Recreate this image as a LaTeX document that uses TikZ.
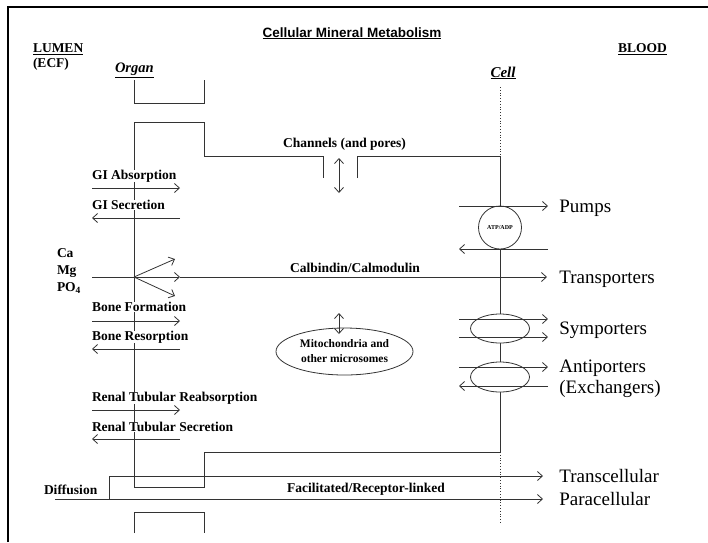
\documentclass[tikz,border=0pt]{standalone}
\usepackage{fontspec}
\setmainfont{Liberation Serif}
\newfontfamily\titlefont{Liberation Sans}
\usetikzlibrary{arrows.meta}
\begin{document}
\begin{tikzpicture}[x=1pt,y=-1pt,line width=.8pt,draw=black!80,
  lbl/.style={font=\fontsize{13.5}{15}\selectfont\bfseries,inner sep=0pt,outer sep=0pt,fill=white,anchor=base west},
  big/.style={font=\fontsize{19}{21}\selectfont,inner sep=0pt,anchor=base west},
  >={Straight Barb[length=5pt,width=9pt]}]
\def\mitochondria{(344.5,351.5) ellipse (68.5pt and 23.5pt)}
\def\pump{(500,227.5) circle (21.5pt)}
\def\symporter{(500,328.5) ellipse (29.5pt and 14.5pt)}
\def\antiporter{(500,377) ellipse (29.5pt and 15pt)}
\useasboundingbox (0,0) rectangle (708,542);
\draw[draw=black,line width=1.4pt] (8,542) -- (8,7) -- (708,7);
% headings
\node[font=\titlefont\fontsize{13.5}{15}\selectfont\bfseries,inner sep=0pt,anchor=base] (title) at (352,37) {\underline{Cellular Mineral Metabolism}};
\node[lbl] (lumen) at (33,52.5) {\underline{LUMEN}};
\node[lbl] (ecf) at (33,67.5) {(ECF)};
\node[lbl,font=\fontsize{14.5}{16}\selectfont\bfseries\itshape] (organ) at (115,72.5) {\underline{Organ}};
\node[lbl] (blood) at (618,52.5) {\underline{BLOOD}};
\node[lbl,anchor=base,font=\fontsize{15}{16}\selectfont\bfseries\itshape] (cell) at (503,77) {\underline{Cell}};
% organ and cell walls
\draw (134,80) -- (134,103) -- (204,103) -- (204,80);
\draw (134,533) -- (134,512) -- (204,512) -- (204,533);
\draw (357,178) -- (357,156) -- (500,156) -- (500,452) -- (204,452) -- (204,487)
  -- (134,487) -- (134,122) -- (204,122) -- (204,156) -- (323,156) -- (323,178);
\draw[dotted] (500,87) -- (500,156) (500,452) -- (500,523);
\draw[fill=white]\pump node[inner sep=0pt,font=\fontsize{6}{6}\selectfont\bfseries] (atp) {ATP/ADP};
\draw[fill=white]\symporter;
\draw[fill=white]\antiporter;
\draw[fill=white]\mitochondria node[align=center,inner sep=0pt,font=\fontsize{11.5}{15}\selectfont\bfseries] (mito) {Mitochondria and\\other microsomes};
% channels
\node[lbl,anchor=base] (channels) at (344.5,147.5) {Channels (and pores)};
\draw[<->] (339,158) -- (339,193);
\draw[<->] (339,313) -- (339,334);
% left side exchanges
\node[lbl] (giabs) at (92,179.5) {GI Absorption};
\draw[->] (92,188) -- (180,188);
\node[lbl] (gisec) at (92,209.5) {GI Secretion};
\draw[->] (180,218) -- (92,218);
\node[lbl] (ca) at (57,257.5) {Ca};
\node[lbl] (mg) at (57,274.5) {Mg};
\node[lbl] (po) at (57,291.5) {PO\textsubscript{4}};
\coordinate (junc) at (134,277);
\draw[->] (junc) -- (175,259);
\draw[->] (junc) -- (175,296);
\draw[->] (92,277) -- (180,277);
\draw[->] (180,277) -- (547,277);
\node[lbl,anchor=base] (calb) at (355,272.5) {Calbindin/Calmodulin};
\node[lbl] (bform) at (92,311.5) {Bone Formation};
\draw[->] (92,321) -- (180,321);
\node[lbl] (bres) at (92,340.5) {Bone Resorption};
\draw[->] (180,349) -- (92,349);
\node[lbl] (rtreab) at (92,401.5) {Renal Tubular Reabsorption};
\draw[->] (92,410) -- (180,410);
\node[lbl] (rtsec) at (92,431.5) {Renal Tubular Secretion};
\draw[->] (180,439) -- (92,439);
% right side carriers
\draw[->] (459,206) -- (548,206);
\draw[->] (548,249) -- (459,249);
\node[big] (pumps) at (559,212) {Pumps};
\node[big] (transp) at (559,283) {Transporters};
\draw[->] (459,319) -- (548,319);
\draw[->] (459,337) -- (548,337);
\node[big] (symp) at (559,334) {Symporters};
\draw[->] (459,367) -- (548,367);
\draw[->] (548,386) -- (459,386);
\node[big] (antip) at (559,372) {Antiporters};
\node[big] (exch) at (559,393) {(Exchangers)};
% diffusion
\node[lbl] (diff) at (44,494.5) {Diffusion};
\draw[->] (55,499) -- (543,499);
\draw[->] (109,499) -- (109,476) -- (543,476);
\node[lbl,anchor=base] (facil) at (366,492.5) {Facilitated/Receptor-linked};
\node[big] (transc) at (559,482) {Transcellular};
\node[big] (parac) at (559,505) {Paracellular};
\end{tikzpicture}
\end{document}
